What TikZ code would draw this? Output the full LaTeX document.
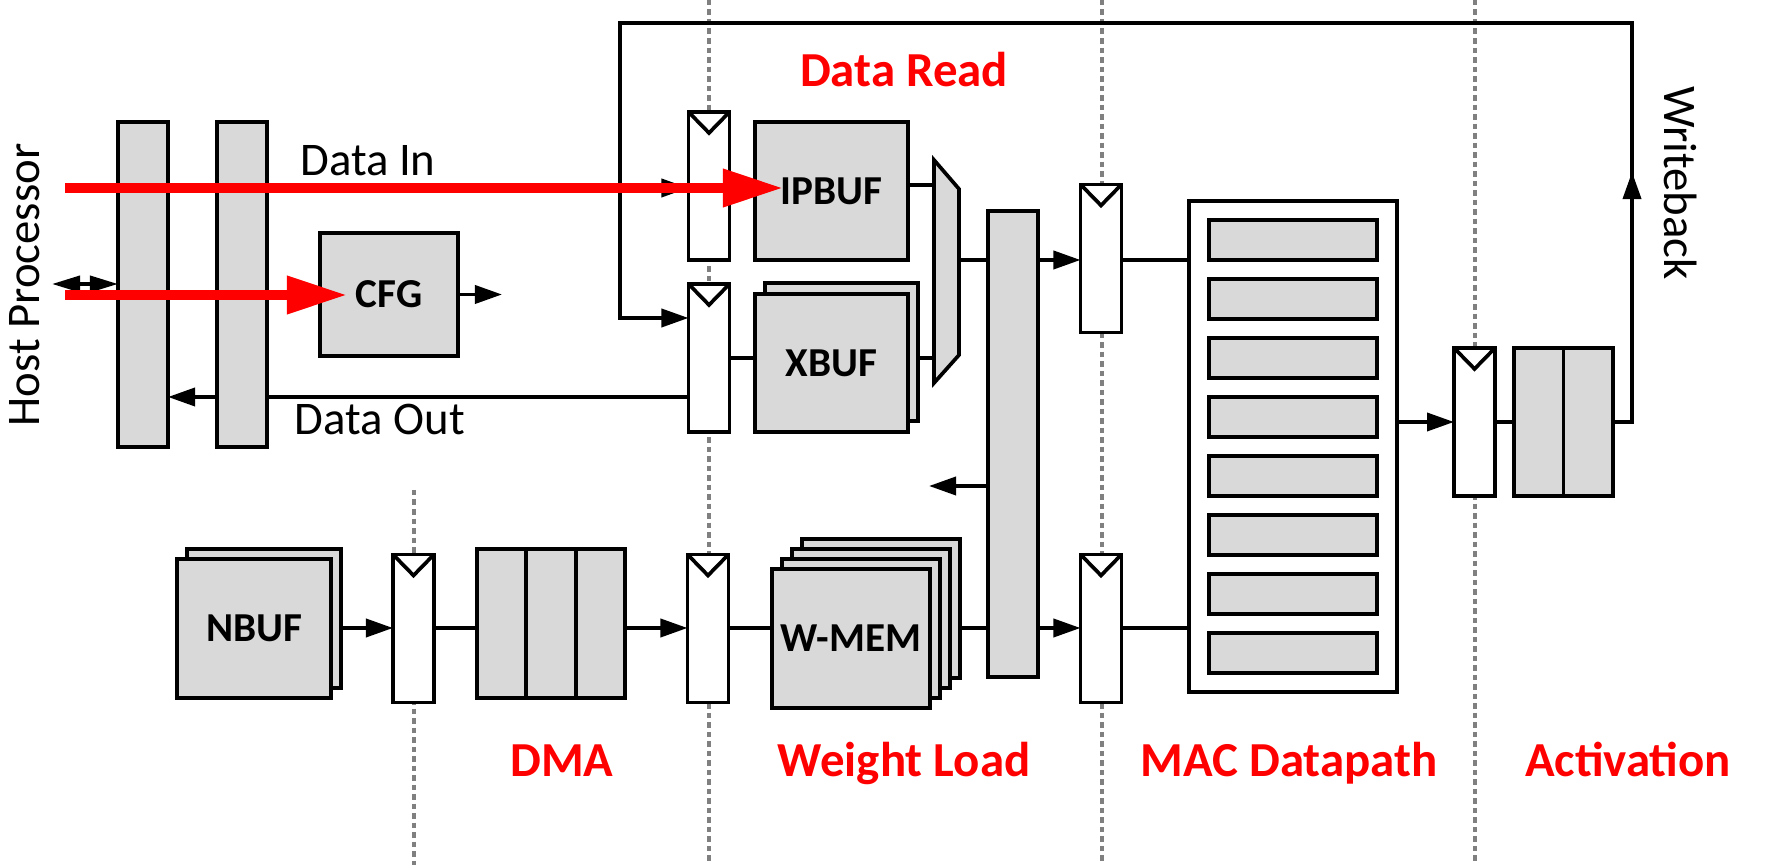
\documentclass[tikz,border=0pt]{standalone}
\usepackage{fontspec}
\setmainfont{Carlito}
\usetikzlibrary{arrows.meta,calc}
\definecolor{blkgray}{RGB}{217,217,217}
\definecolor{sepgray}{RGB}{128,128,128}

\begin{document}
\begin{tikzpicture}[x=0.01cm,y=-0.01cm,line width=1.05pt,
    >={Triangle[length=2.7mm,width=1.8mm]},
    blkbox/.style={draw,fill=blkgray,inner sep=0pt,outer sep=0pt,font=\fontsize{11.7}{14}\selectfont\bfseries},
    bar/.style={blkbox,minimum width=0.5cm},
    reg/.style={draw,fill=white,inner sep=0pt,outer sep=0pt,minimum width=0.41cm,minimum height=1.48cm},
    stagesep/.style={sepgray,line width=0.95pt,dash pattern=on 0.055cm off 0.04cm},
    hot/.style={red,line width=1mm,-{Triangle[length=6mm,width=3.6mm]}},
    lbl/.style={font=\fontsize{13.3}{16}\selectfont},
    stage/.style={red,font=\fontsize{13.9}{16}\selectfont\bfseries,anchor=base}]

    \useasboundingbox (0,0) rectangle (1777,865);

    \coordinate (hostio) at (52,284);\coordinate (hostin) at (65,188);\coordinate (hostcfg) at (65,295);\coordinate (ipin) at (783,188);\coordinate (cfgin) at (347,295);\coordinate (cfgout) at (502,294.5);\coordinate (wbtop) at (1632,23);\coordinate (wbmid) at (1632,172);\coordinate (fbtop) at (620,23);\coordinate (muxa) at (934,185);\coordinate (muxb) at (934,358);\coordinate (muxo) at (959,260);\coordinate (fwd) at (929,486);

    \draw[stagesep] (414,490) -- (414,865);
    \foreach \x in {709,1102,1475} {
        \draw[stagesep] (\x,0) -- (\x,865);
    }

    \node[bar,minimum height=3.25cm] (b1) at (143,284.5) {};
    \node[bar,minimum height=3.25cm] (b2) at (242,284.5) {};
    \node[blkbox,minimum width=1.38cm,minimum height=1.23cm] (cfg) at (389,294.5) {CFG};

    \node[reg] (rip) at (709,186) {};
    \node[reg] (rx) at (709,358) {};
    \node[blkbox,minimum width=1.53cm,minimum height=1.38cm] (ipbuf) at (831.5,191) {IPBUF};
    \node[blkbox,minimum width=1.53cm,minimum height=1.38cm] (xbufb) at (841.5,352) {};
    \node[blkbox,minimum width=1.53cm,minimum height=1.38cm] (xbuf) at (831.5,363) {XBUF};
    \draw[fill=blkgray] (934,160) -- (959,189) -- (959,355) -- (934,383) -- cycle;

    \node[bar,minimum height=4.66cm] (xbar) at (1013,444) {};
    \node[reg] (rm1) at (1101,258.5) {};
    \node[reg] (rm2) at (1101,628.5) {};
    \node[draw,fill=white,inner sep=0pt,outer sep=0pt,minimum width=2.08cm,minimum height=4.91cm] (mac) at (1293,446.5) {};
    \foreach \k in {0,...,7} {
        \node[blkbox,minimum width=1.68cm,minimum height=0.4cm] (pe\k) at (1293,240+59*\k) {};
    }
    \node[reg] (ra) at (1474.5,422) {};
    \node[blkbox,minimum width=0.99cm,minimum height=1.48cm] (act) at (1563.5,422) {};
    \draw (act.north) -- (act.south);

    \node[blkbox,minimum width=1.54cm,minimum height=1.39cm] (nbufb) at (264,618.5) {};
    \node[blkbox,minimum width=1.54cm,minimum height=1.39cm] (nbuf) at (254,628.5) {NBUF};
    \node[reg] (rd) at (413.5,628.5) {};
    \node[blkbox,minimum width=1.48cm,minimum height=1.49cm] (dma) at (551,623.5) {};
    \foreach \f in {0.3333,0.6667} {
        \draw ($(dma.north west)!\f!(dma.north east)$) -- ($(dma.south west)!\f!(dma.south east)$);
    }
    \node[reg] (rw) at (708,628.5) {};
    \foreach \i in {3,2,1} {
        \node[blkbox,minimum width=1.58cm,minimum height=1.39cm] (wmem\i) at (851+10*\i,638.5-10*\i) {};
    }
    \node[blkbox,minimum width=1.58cm,minimum height=1.39cm] (wmem) at (851,638.5) {W-MEM};

    \foreach \r in {rip,rx,rm1,rm2,ra,rd,rw} {
        \draw (\r.north west) -- ($(\r.north)+(0,21)$) -- (\r.north east);
    }

    \draw[<->,>={Triangle[length=2.8mm,width=1.6mm]}] (hostio) -- (b1.west |- hostio);
    \draw[->] (b2.west |- 0,397) -- (b1.east |- 0,397);
    \draw (rx.west |- 0,397) -- (b2.east |- 0,397);
    \draw[->] (cfg.east) -- (cfgout);

    \draw[->] (act.east) -| (wbtop) -- (fbtop) |- (rx.west |- 0,318);
    \draw[->] (act.east -| wbtop) -- (wbmid);
    \draw[->] (fbtop |- 0,188) -- (rip.west |- 0,188);

    \draw (ipbuf.east |- muxa) -- (muxa);
    \draw (rx.east) -- (xbuf.west |- rx.east);
    \draw (xbufb.east |- muxb) -- (muxb);
    \draw (muxo) -- (xbar.west |- muxo);
    \draw[->] (xbar.east |- muxo) -- (rm1.west |- muxo);
    \draw (rm1.east |- muxo) -- (mac.west |- muxo);
    \draw[->] (xbar.west |- fwd) -- (fwd);
    \draw (wmem3.east |- 0,628) -- (xbar.west |- 0,628);
    \draw[->] (xbar.east |- 0,628) -- (rm2.west |- 0,628);
    \draw (rm2.east |- 0,628) -- (mac.west |- 0,628);
    \draw[->] (mac.east |- ra.west) -- (ra.west);
    \draw (ra.east) -- (act.west);

    \draw[->] (nbufb.east |- 0,628) -- (rd.west |- 0,628);
    \draw (rd.east |- 0,628) -- (dma.west |- 0,628);
    \draw[->] (dma.east |- 0,628) -- (rw.west |- 0,628);
    \draw (rw.east |- 0,628) -- (wmem.west |- 0,628);

    \draw[hot] (hostin) -- (ipin);
    \draw[hot] (hostcfg) -- (cfgin);

    \node[lbl,anchor=base] (datain) at (368,176) {Data In};
    \node[lbl,anchor=base] (dataout) at (380,435) {Data Out};
    \node[lbl,rotate=90] (hostlbl) at (25,285) {Host Processor};
    \node[lbl,rotate=-90] (wblbl) at (1681,183) {Writeback};

    \node[stage] (sread) at (904,87) {Data Read};
    \node[stage] (sdma) at (562,777) {DMA};
    \node[stage] (sweight) at (904,777) {Weight Load};
    \node[stage] (smac) at (1289,777) {MAC Datapath};
    \node[stage] (sact) at (1628,777) {Activation};
\end{tikzpicture}
\end{document}
